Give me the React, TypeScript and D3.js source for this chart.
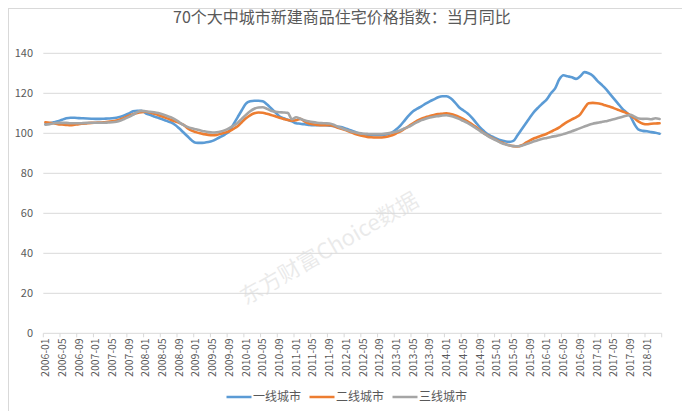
import React from "react";
import * as d3 from "d3";

const W = 682;
const H = 411;

const title = "70个大中城市新建商品住宅价格指数：当月同比";
const seriesNames = ["一线城市", "二线城市", "三线城市"];
const seriesColors = ["#5B9BD5", "#ED7D31", "#A5A5A5"];
const yTicks = [0, 20, 40, 60, 80, 100, 120, 140];

// 2006-01 .. 2018-04, monthly
const tier1 = [
  104.5, 105, 105.5, 106, 106.8, 107.5, 107.8, 107.8, 107.6, 107.5, 107.4, 107.3,
  107.2, 107.2, 107.3, 107.4, 107.5, 107.8, 108.3, 109, 110, 111, 111.3, 111.3,
  110, 109.3, 108.4, 107.8, 107, 106.2, 105.5, 104.3, 102.5, 100.5, 98.5, 96.5,
  95.3, 95.2, 95.3, 95.6, 96.2, 97.2, 98.3, 99.5, 101, 104.5, 108, 111.5,
  114.8, 116, 116.3, 116.3, 116, 114.5, 112.5, 110.5, 108.5, 107.5, 106.8, 106,
  105, 104.8, 104.5, 104.2, 104, 104, 104, 104, 103.8, 103.6, 103.3, 103,
  102.3, 101.5, 100.8, 100, 99.6, 99.3, 99.1, 99, 99, 99.2, 99.6, 100.5,
  102, 104, 106.5, 109, 111, 112.3, 113.5, 114.8, 116, 117, 118, 118.5,
  118.5, 117.5, 115.5, 113, 111.5, 110, 108, 105.5, 103, 101, 99.3, 98.3,
  97.3, 96.5, 96, 95.7, 96.2, 99, 102, 105, 108, 110.8, 113, 115,
  117, 120, 122.5, 127, 129, 128.5, 128, 127.2, 128.5, 130.6, 130, 128.8,
  126.5, 124.5, 122.5, 120, 117.5, 115, 112.5, 110.5, 108.5, 104.5, 101.8, 101.2,
  101, 100.6, 100.3, 99.8,
];

const tier2 = [
  105.5, 105.2, 105, 104.6, 104.4, 104.2, 104, 104.3, 104.6, 104.8, 105, 105.2,
  105.3, 105.4, 105.5, 105.8, 106, 106.4, 107, 107.8, 108.8, 109.5, 110.2, 110.6,
  110.8, 110.4, 109.8, 109.2, 108.4, 107.6, 106.8, 106, 105.2, 104.3, 102.6, 101.3,
  100.6, 100, 99.6, 99.2, 99, 99.2, 99.8, 100.4, 101, 102.2, 103.5, 105.5,
  107.5, 109, 110, 110.4, 110.3, 109.8, 109.2, 108.5, 107.8, 107.2, 106.6, 106.3,
  106.5, 107.2, 106, 105, 104.5, 104.2, 104, 104, 104, 103.6, 102.8, 102.2,
  101.5, 100.6, 99.8, 99.1, 98.6, 98.2, 98, 97.9, 97.9, 98, 98.4, 99,
  100, 101, 102.3, 103.6, 105, 106.3, 107.3, 108, 108.7, 109.2, 109.6, 109.8,
  110, 109.6, 109, 108.2, 107.2, 106, 104.6, 103.2, 101.5, 100, 98.7, 97.6,
  96.6, 95.5, 94.7, 94, 93.6, 93.4, 94, 95.3, 96.5, 97.5, 98.3, 99,
  99.8, 100.8, 101.8, 103, 104.5, 105.8, 107, 108, 109.5, 112.5, 115, 115.2,
  115, 114.6, 114, 113.4, 112.6, 111.8, 111, 110.2, 109, 107.5, 105.8, 104.8,
  104.5, 104.8, 104.9, 105,
];

const tier3 = [
  104.3, 104.6, 105, 105.2, 105.2, 105.2, 105, 105, 105, 105.1, 105.2, 105.3,
  105.3, 105.3, 105.3, 105.4, 105.5, 105.8, 106.4, 107.3, 108.2, 109.3, 110.6, 111.2,
  111, 110.8, 110.5, 110.1, 109.5, 108.8, 108, 107, 105.6, 104.2, 103.2, 102.5,
  102, 101.5, 101, 100.6, 100.4, 100.5, 100.9, 101.6, 102.6, 103.8, 105.2, 107.2,
  109.2, 111, 112.3, 112.9, 113, 112.3, 111.3, 110.8, 110.5, 110.4, 110.2, 107,
  108, 107.3, 106.5, 106, 105.6, 105.3, 105.1, 105, 104.9, 104.3, 103.3, 102.5,
  101.7, 101, 100.5, 100.1, 99.8, 99.7, 99.6, 99.6, 99.6, 99.7, 100, 100.4,
  100.8, 101.5, 102.5, 103.3, 104.5, 105.6, 106.6, 107.3, 107.9, 108.3, 108.6, 108.9,
  109, 108.6, 108, 107.2, 106.2, 105.2, 104, 102.6, 101.2, 99.8, 98.5, 97.4,
  96.3, 95.3, 94.5, 94, 93.6, 93.5, 93.8, 94.5, 95.2, 96, 96.7, 97.3,
  97.7, 98.2, 98.6, 99, 99.6, 100.3, 101, 101.8, 102.6, 103.4, 104.2, 104.8,
  105.2, 105.6, 106, 106.5, 107, 107.6, 108.2, 108.8, 109.2, 108.3, 107.4, 107.2,
  107.3, 107, 107.5, 107.2,
];

const fmt = d3.timeFormat("%Y-%m");
const categories = d3
  .timeMonth.range(new Date(2006, 0, 1), new Date(2018, 4, 1))
  .map((d) => fmt(d));
const tickLabels = categories.filter((_, i) => i % 4 === 0);

const series = [tier1, tier2, tier3];

const FONT = "'Noto Sans CJK SC', 'Noto Sans', sans-serif";

export default function App() {
  const left = 43.3;
  const right = 661.7;
  const top = 53.3;
  const bottom = 333.3;

  const x = d3.scaleBand<string>().domain(categories).range([left, right]).padding(0);
  const bw = x.bandwidth();
  const y = d3.scaleLinear().domain([0, 140]).range([bottom, top]);

  const line = d3
    .line<number>()
    .x((_, i) => (x(categories[i]) as number) + bw / 2)
    .y((d) => y(d))
    .curve(d3.curveMonotoneX);

  const tickIdx = categories.map((_, i) => i).filter((i) => i % 4 === 0);

  const legendItems = [
    { lx: 226.5, tx: 253 },
    { lx: 309.5, tx: 336 },
    { lx: 392.5, tx: 419 },
  ];

  return (
    <svg
      width={W}
      height={H}
      style={{ position: "absolute", left: 0, top: 0, display: "block", background: "#fff" }}
      fontFamily={FONT}
    >
      <rect x={0} y={0} width={W} height={H} fill="#fff" />
      <rect x={8.5} y={8.5} width={W + 10} height={H + 10} fill="none" stroke="#d9d9d9" />

      {/* watermark */}
      <text
        x={330}
        y={250}
        transform="rotate(-30 330 250)"
        textAnchor="middle"
        dominantBaseline="middle"
        fontSize={22}
        fill="#000"
        opacity={0.08}
      >
        东方财富Choice数据
      </text>

      <text x={342} y={22.5} textAnchor="middle" fontSize={16} fill="#595959">
        {title}
      </text>

      {yTicks.map((t) => (
        <g key={t}>
          <line x1={left} x2={right} y1={y(t)} y2={y(t)} stroke="#d9d9d9" strokeWidth={1} />
          <text x={33} y={y(t)} dy="0.35em" textAnchor="end" fontSize={11} fill="#595959">
            {t}
          </text>
        </g>
      ))}

      {[...tickIdx, categories.length].map((i) => {
        const xx = i < categories.length ? (x(categories[i]) as number) : right;
        return <line key={"t" + i} x1={xx} x2={xx} y1={bottom} y2={bottom + 4} stroke="#d9d9d9" />;
      })}

      {tickIdx.map((i, k) => {
        const xc = (x(categories[i]) as number) + bw / 2;
        return (
          <text
            key={"l" + i}
            transform={`translate(${xc},${bottom + 5}) rotate(-90)`}
            dy="0.35em"
            textAnchor="end"
            fontSize={10.5}
            fill="#595959"
          >
            {tickLabels[k]}
          </text>
        );
      })}

      {series.map((s, k) => (
        <path
          key={"s" + k}
          d={line(s) as string}
          fill="none"
          stroke={seriesColors[k]}
          strokeWidth={2.6}
          strokeLinejoin="round"
          strokeLinecap="round"
        />
      ))}

      {seriesNames.map((n, k) => (
        <g key={"lg" + k}>
          <line
            x1={legendItems[k].lx}
            x2={legendItems[k].lx + 25}
            y1={397}
            y2={397}
            stroke={seriesColors[k]}
            strokeWidth={2.5}
          />
          <text x={legendItems[k].tx} y={397} dy="0.35em" fontSize={12} fill="#595959">
            {n}
          </text>
        </g>
      ))}
    </svg>
  );
}
